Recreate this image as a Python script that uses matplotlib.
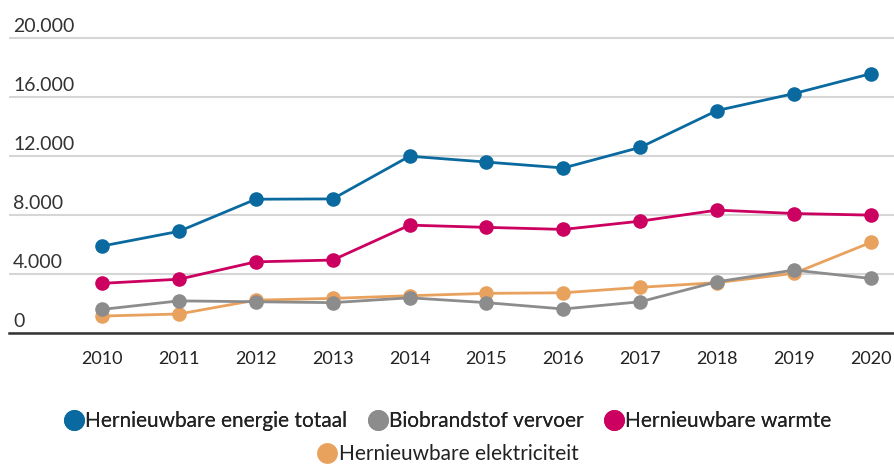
import matplotlib
matplotlib.use("Agg")
import matplotlib.pyplot as plt
from matplotlib.lines import Line2D
from matplotlib.transforms import blended_transform_factory, offset_copy

plt.rcParams['font.family'] = ['Lato', 'DejaVu Sans']

years = [2010, 2011, 2012, 2013, 2014, 2015, 2016, 2017, 2018, 2019, 2020]
totaal = [5900, 6900, 9080, 9100, 12000, 11600, 11200, 12600, 15100, 16250, 17600]
vervoer = [1600, 2180, 2120, 2060, 2390, 2060, 1630, 2120, 3480, 4270, 3700]
warmte = [3370, 3650, 4830, 4950, 7320, 7170, 7030, 7590, 8340, 8110, 8000]
elektriciteit = [1150, 1290, 2230, 2350, 2530, 2690, 2730, 3100, 3420, 4050, 6150]

yticks = [0, 4000, 8000, 12000, 16000, 20000]
ytick_labels = ["0", "4.000", "8.000", "12.000", "16.000", "20.000"]

series = [
    ("Hernieuwbare energie totaal", totaal, "#0a6aa0"),
    ("Biobrandstof vervoer", vervoer, "#8c8c8c"),
    ("Hernieuwbare warmte", warmte, "#cc0060"),
    ("Hernieuwbare elektriciteit", elektriciteit, "#e9a25d"),
]

W, H = 894, 465
fig = plt.figure(figsize=(W / 100, H / 100), dpi=100)
ax = fig.add_axes([9 / W, 1 - 333 / H, (W - 9) / W, (333 - 14) / H])

# draw back-to-front so the total line sits on top
draw_order = [3, 1, 2, 0]
for i in draw_order:
    name, vals, col = series[i]
    ax.plot(years, vals, color=col, lw=2.0, marker='o', ms=10.5,
            markeredgewidth=0, solid_capstyle='round', zorder=3 + (3 - i))

ax.set_xlim(2008.79, 2020.3)
ax.set_ylim(0, 21650)
ax.set_yticks(yticks)
ax.yaxis.grid(True, color='#d6d6d6', lw=1.5)
ax.set_axisbelow(True)
ax.tick_params(axis='y', length=0, labelleft=False)
ax.tick_params(axis='x', length=0, pad=13, labelsize=13, labelcolor='#222222')
ax.set_xticks(years)
ax.set_xticklabels([str(y) for y in years])
for s in ['top', 'right', 'left']:
    ax.spines[s].set_visible(False)
ax.spines['bottom'].set_color('#333333')
ax.spines['bottom'].set_linewidth(1.8)

trans = blended_transform_factory(ax.transAxes, ax.transData)
trans = offset_copy(trans, fig=fig, x=0, y=6, units='dots')
for v, lab in zip(yticks, ytick_labels):
    ax.text(4 / (W - 9), v, lab, transform=trans, ha='left', va='baseline',
            fontsize=14, color='#333333')

handles = [Line2D([], [], color=c, marker='o', ls='none', ms=15, markeredgewidth=0)
           for _, _, c in series]
labels = [n for n, _, _ in series]

leg1 = fig.legend(handles[:3], labels[:3], loc='center', bbox_to_anchor=(0.5, 1 - 421 / H),
                  ncol=3, frameon=False, fontsize=15, handletextpad=0.0,
                  columnspacing=0.9, handlelength=1.1, labelcolor='#222222')
fig.add_artist(leg1)
fig.legend(handles[3:], labels[3:], loc='center', bbox_to_anchor=(0.5, 1 - 454 / H),
           ncol=1, frameon=False, fontsize=15, handletextpad=0.0,
           handlelength=1.1, labelcolor='#222222')

fig.savefig("out.png", dpi=100)
